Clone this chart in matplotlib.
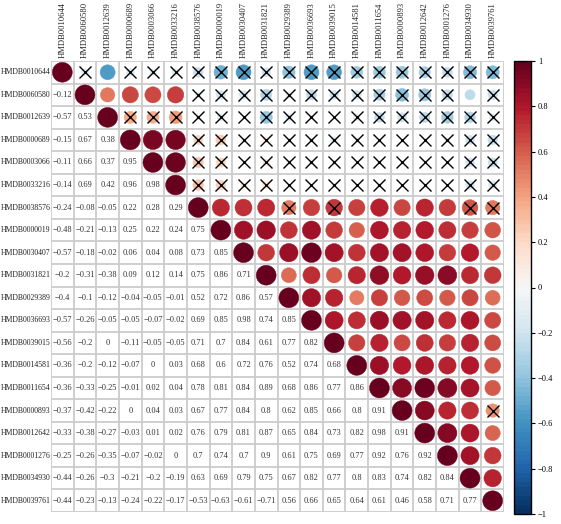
import matplotlib
matplotlib.use("Agg")
import matplotlib.pyplot as plt
from matplotlib.patches import Circle
import matplotlib.colors as mcolors
import numpy as np

plt.rcParams['font.family'] = ['Liberation Serif', 'DejaVu Serif']

names = ["HMDB0010644", "HMDB0060580", "HMDB0012639", "HMDB0000689", "HMDB0003066",
         "HMDB0033216", "HMDB0038576", "HMDB0000019", "HMDB0030407", "HMDB0031821",
         "HMDB0029389", "HMDB0036693", "HMDB0039015", "HMDB0014581", "HMDB0011654",
         "HMDB0000893", "HMDB0012642", "HMDB0001276", "HMDB0034930", "HMDB0039761"]

# lower-triangle correlation values (row i has i values, columns 0..i-1)
lower = [
    [],
    [-0.12],
    [-0.57, 0.53],
    [-0.15, 0.67, 0.38],
    [-0.11, 0.66, 0.37, 0.95],
    [-0.14, 0.69, 0.42, 0.96, 0.98],
    [-0.24, -0.08, -0.05, 0.22, 0.28, 0.29],
    [-0.48, -0.21, -0.13, 0.25, 0.22, 0.24, 0.75],
    [-0.57, -0.18, -0.02, 0.06, 0.04, 0.08, 0.73, 0.85],
    [-0.2, -0.31, -0.38, 0.09, 0.12, 0.14, 0.75, 0.86, 0.71],
    [-0.4, -0.1, -0.12, -0.04, -0.05, -0.01, 0.52, 0.72, 0.86, 0.57],
    [-0.57, -0.26, -0.05, -0.05, -0.07, -0.02, 0.69, 0.85, 0.98, 0.74, 0.85],
    [-0.56, -0.2, 0, -0.11, -0.05, -0.05, 0.71, 0.7, 0.84, 0.61, 0.77, 0.82],
    [-0.36, -0.2, -0.12, -0.07, 0, 0.03, 0.68, 0.6, 0.72, 0.76, 0.52, 0.74, 0.68],
    [-0.36, -0.33, -0.25, -0.01, 0.02, 0.04, 0.78, 0.81, 0.84, 0.89, 0.68, 0.86, 0.77, 0.86],
    [-0.37, -0.42, -0.22, 0, 0.04, 0.03, 0.67, 0.77, 0.84, 0.8, 0.62, 0.85, 0.66, 0.8, 0.91],
    [-0.33, -0.38, -0.27, -0.03, 0.01, 0.02, 0.76, 0.79, 0.81, 0.87, 0.65, 0.84, 0.73, 0.82, 0.98, 0.91],
    [-0.25, -0.26, -0.35, -0.07, -0.02, 0, 0.7, 0.74, 0.7, 0.9, 0.61, 0.75, 0.69, 0.77, 0.92, 0.76, 0.92],
    [-0.44, -0.26, -0.3, -0.21, -0.2, -0.19, 0.63, 0.69, 0.79, 0.75, 0.67, 0.82, 0.77, 0.8, 0.83, 0.74, 0.82, 0.84],
    [-0.44, -0.23, -0.13, -0.24, -0.22, -0.17, -0.53, -0.63, -0.61, -0.71, 0.56, 0.66, 0.65, 0.64, 0.61, 0.46, 0.58, 0.71, 0.77],
]

# upper-triangle circles that are drawn with a different value than the printed one
circle_override = {(6, 19): 0.53, (7, 19): 0.63, (8, 19): 0.61, (9, 19): 0.71}

# upper-triangle cells marked as non-significant (row -> columns)
crossed = {
    0: [1, 3, 4, 5, 6, 7, 8, 9, 10, 11, 12, 13, 14, 15, 16, 17, 18, 19],
    1: [6, 7, 8, 9, 10, 11, 12, 13, 14, 15, 16, 17, 19],
    2: [3, 4, 5, 6, 7, 8, 9, 10, 11, 12, 13, 14, 15, 16, 17, 18, 19],
    3: [6, 7, 8, 9, 10, 11, 12, 13, 14, 15, 16, 17, 18, 19],
    4: [6, 7, 8, 9, 10, 11, 12, 13, 14, 15, 16, 17, 18, 19],
    5: [6, 7, 8, 9, 10, 11, 12, 13, 14, 15, 16, 17, 18, 19],
    6: [10, 12, 18, 19],
    15: [19],
}

n = len(names)
M = np.eye(n)
for i, row in enumerate(lower):
    for j, v in enumerate(row):
        M[i, j] = v
        M[j, i] = v

cmap = plt.get_cmap('RdBu_r')
norm = mcolors.Normalize(-1, 1)

W, H = 561, 524
fig = plt.figure(figsize=(W / 100, H / 100), dpi=100)
ax = fig.add_axes([51 / W, 1 - 512 / H, (504 - 51) / W, (512 - 61) / H])
ax.set_xlim(-0.5, n - 0.5)
ax.set_ylim(n - 0.5, -0.5)
ax.axis('off')

def fmt(v):
    s = f"{v:.2f}".rstrip('0').rstrip('.')
    if s in ("-0", ""):
        s = "0"
    return s.replace('-', '\u2212')

for i in range(n):
    for j in range(n):
        if j >= i:
            v = circle_override.get((i, j), M[i, j])
            r = 0.44 * np.sqrt(abs(v))
            ax.add_patch(Circle((j, i), r, facecolor=cmap(norm(v)),
                                edgecolor=cmap(norm(v)), lw=0.3, zorder=2))
        else:
            ax.text(j, i, fmt(M[i, j]), ha='center', va='center',
                    fontsize=6, color='#333333', zorder=3)

for i, cols in crossed.items():
    for j in cols:
        ax.plot(j, i, marker='x', ms=8.5, mew=1.0, color='black', zorder=4)

# grid
for k in range(n + 1):
    ax.plot([-0.5, n - 0.5], [k - 0.5, k - 0.5], color='#cccccc', lw=1.3, zorder=1,
            solid_capstyle='butt')
    ax.plot([k - 0.5, k - 0.5], [-0.5, n - 0.5], color='#cccccc', lw=1.3, zorder=1,
            solid_capstyle='butt')

# labels
for i, nm in enumerate(names):
    ax.text(-0.53, i, nm, ha='right', va='center', fontsize=5.6, color='#222222',
            clip_on=False)
    ax.text(i, -0.62, nm, ha='center', va='bottom', rotation=90, fontsize=6.1,
            color='#222222', clip_on=False)

# colorbar
cax = fig.add_axes([514 / W, 1 - 514 / H, 17 / W, (514 - 61) / H])
sm = matplotlib.cm.ScalarMappable(norm=norm, cmap=mcolors.ListedColormap(cmap(np.linspace(0, 1, 100))))
cb = fig.colorbar(sm, cax=cax, ticks=[-1, -0.8, -0.6, -0.4, -0.2, 0, 0.2, 0.4, 0.6, 0.8, 1])
cb.ax.set_yticklabels(['\u22121', '\u22120.8', '\u22120.6', '\u22120.4', '\u22120.2', '0',
                       '0.2', '0.4', '0.6', '0.8', '1'])
cb.ax.tick_params(labelsize=6, length=3, width=0.8, pad=2)
cb.outline.set_linewidth(1.0)

fig.savefig('out.png', dpi=100)
